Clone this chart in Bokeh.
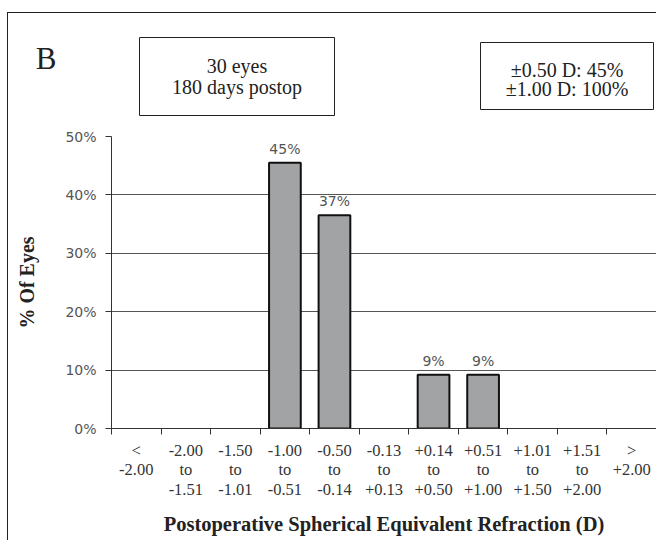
from bokeh.plotting import figure
from bokeh.layouts import column
from bokeh.models import (FixedTicker, LinearAxis, Range1d, Label, ColumnDataSource,
                          CDSView, BooleanFilter)
from bokeh.core.properties import value
from bokeh.embed import file_html
from bokeh.resources import INLINE

# ---- data ----
categories = ["<\n-2.00", "-2.00\nto\n-1.51", "-1.50\nto\n-1.01", "-1.00\nto\n-0.51",
              "-0.50\nto\n-0.14", "-0.13\nto\n+0.13", "+0.14\nto\n+0.50",
              "+0.51\nto\n+1.00", "+1.01\nto\n+1.50", "+1.51\nto\n+2.00", ">\n+2.00"]
percent_eyes = [0, 0, 0, 45.5, 36.5, 0, 9.2, 9.2, 0, 0, 0]
bar_labels = ["", "", "", "45%", "37%", "", "9%", "9%", "", "", ""]
y_ticks = [0, 10, 20, 30, 40, 50]
y_tick_labels = ["0%", "10%", "20%", "30%", "40%", "50%"]
panel_letter = "B"
box_left_text = "30 eyes\n180 days postop"
box_right_text = "\u00b10.50 D: 45%\n\u00b11.00 D: 100%"
x_title = "Postoperative Spherical Equivalent Refraction (D)"
y_title = "% Of Eyes"

SERIF = "Liberation Serif"
SANS = "DejaVu Sans"
INK = "#222222"

# ---------------- header (panel letter + info boxes) ----------------
# header frame uses page-pixel coordinates: x 111..656, y 13..126 (y downwards)
hdr = figure(width=648, height=113, output_backend="svg", toolbar_location=None,
             x_range=Range1d(111, 656), y_range=Range1d(126, 13),
             x_axis_location=None,
             min_border_left=103, min_border_right=0,
             min_border_top=0, min_border_bottom=0)
hdr.outline_line_color = None
hdr.grid.visible = False
ha = hdr.yaxis[0]
ha.ticker = FixedTicker(ticks=[57.5])
ha.major_label_overrides = {57.5: panel_letter}
ha.major_label_orientation = "horizontal"
ha.major_label_text_font = SERIF
ha.major_label_text_font_size = "31px"
ha.major_label_text_color = INK
ha.major_label_standoff = 55
ha.major_tick_out = 0
ha.major_tick_in = 0
ha.minor_tick_line_color = None
ha.major_tick_line_color = None
ha.axis_line_color = None

box_l = [139, 480]
box_r = [334, 653]
box_t = [37, 42]
box_b = [115, 109]
hdr.quad(left=box_l, right=box_r, top=box_t, bottom=box_b,
         fill_color="white", line_color=INK, line_width=1)
hdr.add_layout(Label(x=236.5, y=76, text=box_left_text, text_font=SERIF,
                     text_font_size="20px", text_color=INK, text_line_height=0.92,
                     text_align="center", text_baseline="middle"))
hdr.add_layout(Label(x=566.5, y=79, text=box_right_text, text_font=SERIF,
                     text_font_size="20px", text_color=INK, text_line_height=0.9,
                     text_align="center", text_baseline="middle"))

# ---------------- chart ----------------
centers = [i + 0.5 for i in range(len(categories))]
src = ColumnDataSource(dict(x=centers, top=percent_eyes, lab=bar_labels))
nonzero = CDSView(filter=BooleanFilter(booleans=[v > 0 for v in percent_eyes]))

p = figure(width=648, height=414, output_backend="svg", toolbar_location=None,
           x_range=Range1d(0, 11), y_range=Range1d(0, 50),
           min_border_left=103, min_border_right=0, min_border_top=10,
           min_border_bottom=112)
p.outline_line_color = None
p.xgrid.visible = False
p.ygrid.ticker = FixedTicker(ticks=y_ticks[1:])
p.ygrid.grid_line_color = "#555555"
p.ygrid.grid_line_width = 1

p.vbar(x="x", top="top", width=0.64, bottom=0, source=src, view=nonzero,
       fill_color="#a2a3a5", line_color="#111111", line_width=2)
p.text(x="x", y="top", text="lab", source=src, y_offset=-6,
       text_align="center", text_baseline="bottom",
       text_font=value(SANS), text_font_size="14px", text_color="#555555")

ya = p.yaxis[0]
ya.ticker = FixedTicker(ticks=y_ticks)
ya.major_label_overrides = {t: l for t, l in zip(y_ticks, y_tick_labels)}
ya.major_tick_out = 6
ya.major_tick_in = 0
ya.minor_tick_line_color = None
ya.axis_line_color = "#333333"
ya.major_tick_line_color = "#333333"
ya.major_label_standoff = 9
ya.major_label_text_font = SANS
ya.major_label_text_font_size = "14px"
ya.major_label_text_color = "#555555"
ya.axis_label = y_title
ya.axis_label_text_font = SERIF
ya.axis_label_text_font_style = "bold"
ya.axis_label_text_font_size = "20px"
ya.axis_label_text_color = INK
ya.axis_label_standoff = 24

xa = p.xaxis[0]
xa.ticker = FixedTicker(ticks=list(range(len(categories) + 1)))
xa.major_label_overrides = {i: "" for i in range(len(categories) + 1)}
xa.major_label_text_font_size = "0px"
xa.major_label_standoff = 0
xa.major_tick_out = 6
xa.major_tick_in = 0
xa.minor_tick_line_color = None
xa.axis_line_color = "#333333"
xa.major_tick_line_color = "#333333"

xa2 = LinearAxis(ticker=FixedTicker(ticks=centers),
                 major_label_overrides={c: l for c, l in zip(centers, categories)},
                 axis_line_color=None, major_tick_line_color=None,
                 minor_tick_line_color=None, major_label_standoff=0,
                 major_label_text_font=SERIF, major_label_text_font_size="16.5px",
                 major_label_text_color="#333333",
                 major_label_text_line_height=1.05,
                 axis_label=x_title,
                 axis_label_text_font=SERIF, axis_label_text_font_style="bold",
                 axis_label_text_font_size="20.5px", axis_label_text_color=INK,
                 axis_label_standoff=11)
p.add_layout(xa2, "below")

page = column(hdr, p, spacing=0,
              styles={"border-top": "1px solid #222", "border-left": "1px solid #222",
                      "margin-top": "12px", "margin-left": "7px"})

open("out.html", "w").write(file_html(page, INLINE))
